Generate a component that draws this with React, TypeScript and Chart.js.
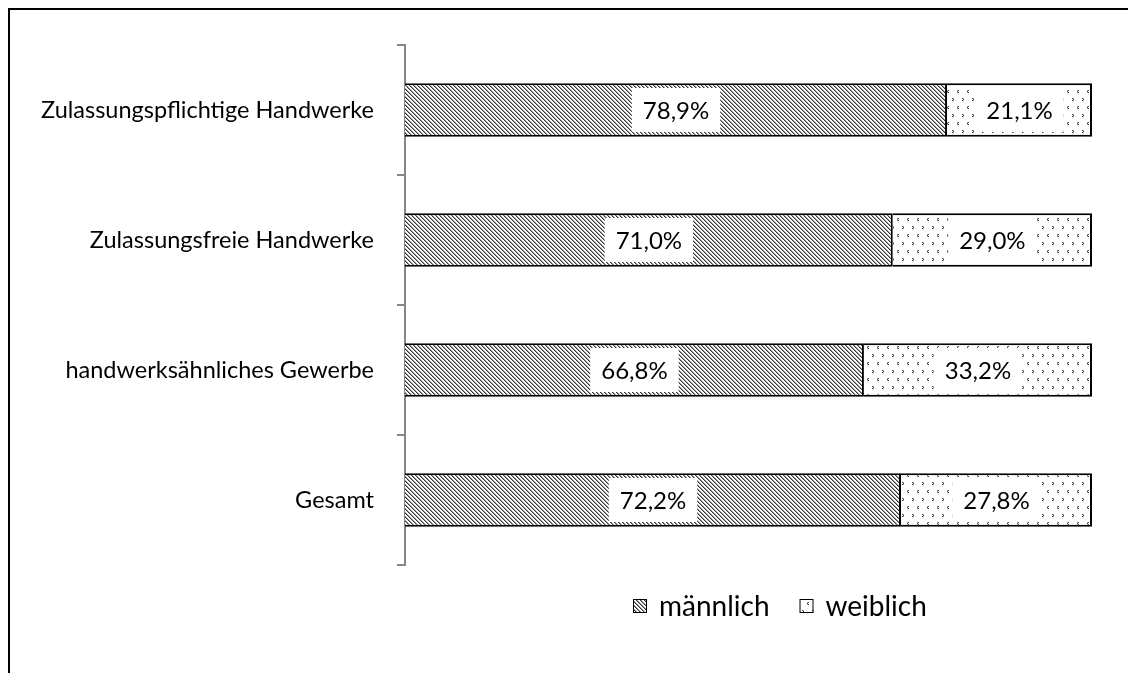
import React, { useEffect, useRef } from 'react';
import { Chart, registerables } from 'chart.js';
Chart.register(...registerables);

const categories = [
  'Zulassungspflichtige Handwerke',
  'Zulassungsfreie Handwerke',
  'handwerksähnliches Gewerbe',
  'Gesamt',
];
const maleValues = [78.9, 71.0, 66.8, 72.2];
const femaleValues = [21.1, 29.0, 33.2, 27.8];
const seriesLabels = ['männlich', 'weiblich'];

const FONT = 'Lato';

function stripePattern(ctx: CanvasRenderingContext2D) {
  const c = document.createElement('canvas');
  c.width = 4;
  c.height = 4;
  const cx = c.getContext('2d')!;
  const img = cx.createImageData(4, 4);
  for (let y = 0; y < 4; y++) {
    for (let x = 0; x < 4; x++) {
      const m = (((x - y) % 4) + 4) % 4;
      const v = m === 0 ? 55 : m === 1 ? 150 : 255;
      const i = (y * 4 + x) * 4;
      img.data[i] = v;
      img.data[i + 1] = v;
      img.data[i + 2] = v;
      img.data[i + 3] = 255;
    }
  }
  cx.putImageData(img, 0, 0);
  return ctx.createPattern(c, 'repeat')!;
}

function dotPattern(ctx: CanvasRenderingContext2D) {
  const c = document.createElement('canvas');
  c.width = 10;
  c.height = 16;
  const cx = c.getContext('2d')!;
  cx.fillStyle = '#fff';
  cx.fillRect(0, 0, 10, 16);
  const dark = '#444';
  const mid = '#a0a0a0';
  // ">" mark
  cx.fillStyle = dark;
  cx.fillRect(2, 2, 1, 1);
  cx.fillRect(3, 3, 1, 1);
  cx.fillRect(2, 4, 1, 1);
  cx.fillStyle = mid;
  cx.fillRect(3, 2, 1, 1);
  cx.fillRect(3, 4, 1, 1);
  // "<" mark
  cx.fillStyle = dark;
  cx.fillRect(8, 10, 1, 1);
  cx.fillRect(7, 11, 1, 1);
  cx.fillRect(8, 12, 1, 1);
  cx.fillStyle = mid;
  cx.fillRect(7, 10, 1, 1);
  cx.fillRect(7, 12, 1, 1);
  return ctx.createPattern(c, 'repeat')!;
}

const fmt = (v: number) => v.toFixed(1).replace('.', ',') + '%';

const decorPlugin = {
  id: 'decor',
  afterDatasetsDraw(chart: any) {
    const ctx: CanvasRenderingContext2D = chart.ctx;
    ctx.save();
    ctx.font = `24px ${FONT}`;
    ctx.textAlign = 'center';
    ctx.textBaseline = 'middle';
    chart.data.datasets.forEach((ds: any, di: number) => {
      const meta = chart.getDatasetMeta(di);
      meta.data.forEach((el: any, i: number) => {
        const { x, base, y } = el.getProps(['x', 'base', 'y'], true);
        const cx = (x + base) / 2;
        const text = fmt(ds.data[i]);
        const w = ctx.measureText(text).width + 22;
        const h = 44;
        ctx.fillStyle = '#fff';
        ctx.fillRect(cx - w / 2, y - h / 2, w, h);
        ctx.fillStyle = '#000';
        ctx.fillText(text, cx, y + 1);
      });
    });
    ctx.restore();
  },
  afterDraw(chart: any) {
    const ctx: CanvasRenderingContext2D = chart.ctx;
    ctx.save();
    // frame
    ctx.strokeStyle = '#000';
    ctx.lineWidth = 2;
    ctx.beginPath();
    ctx.moveTo(9, chart.height);
    ctx.lineTo(9, 9);
    ctx.lineTo(chart.width, 9);
    ctx.stroke();
    // legend
    ctx.font = `28px ${FONT}`;
    ctx.textBaseline = 'middle';
    ctx.textAlign = 'left';
    const box = 14;
    const gap = 12;
    const spacing = 30;
    const items = chart.data.datasets.map((ds: any) => ({
      label: ds.label,
      fill: ds.backgroundColor,
      w: box + gap + ctx.measureText(ds.label).width,
    }));
    const total = items.reduce((s: number, it: any) => s + it.w, 0) + spacing * (items.length - 1);
    let lx = Math.round(780 - total / 2);
    const ly = 606;
    items.forEach((it: any) => {
      ctx.fillStyle = it.fill;
      ctx.fillRect(lx, ly - box / 2, box, box);
      ctx.strokeStyle = '#000';
      ctx.lineWidth = 1;
      ctx.strokeRect(lx + 0.5, ly - box / 2 + 0.5, box - 1, box - 1);
      ctx.fillStyle = '#000';
      ctx.fillText(it.label, lx + box + gap, ly + 1);
      lx += it.w + spacing;
    });
    ctx.restore();
  },
};

export default function App() {
  const ref = useRef<HTMLCanvasElement>(null);
  useEffect(() => {
    document.body.style.margin = '0';
    const canvas = ref.current!;
    const ctx = canvas.getContext('2d')!;
    const chart = new Chart(ctx, {
      type: 'bar',
      data: {
        labels: categories,
        datasets: [
          {
            label: seriesLabels[0],
            data: maleValues,
            backgroundColor: stripePattern(ctx) as any,
            borderColor: '#000',
            borderWidth: { top: 2, bottom: 2, right: 2, left: 0 },
            borderSkipped: false,
          },
          {
            label: seriesLabels[1],
            data: femaleValues,
            backgroundColor: dotPattern(ctx) as any,
            borderColor: '#000',
            borderWidth: { top: 2, bottom: 2, right: 2, left: 0 },
            borderSkipped: false,
          },
        ],
      },
      options: {
        indexAxis: 'y',
        responsive: false,
        animation: false,
        devicePixelRatio: 1,
        datasets: { bar: { barPercentage: 0.41, categoryPercentage: 1 } },
        layout: { padding: { left: 0, right: 36, top: 45, bottom: 108 } },
        plugins: { legend: { display: false }, tooltip: { enabled: false } },
        scales: {
          x: { stacked: true, min: 0, max: 100, display: false },
          y: {
            stacked: true,
            border: { display: true, color: '#868686', width: 2 },
            grid: {
              offset: true,
              drawOnChartArea: false,
              drawTicks: true,
              tickLength: 8,
              color: '#868686',
              lineWidth: 2,
            },
            ticks: { color: '#000', font: { family: FONT, size: 23.5 }, padding: 23 },
            afterFit: (scale: any) => {
              scale.width = 405;
            },
          },
        },
      },
      plugins: [decorPlugin],
    } as any);
    return () => chart.destroy();
  }, []);
  return <canvas ref={ref} width={1128} height={673} style={{ display: 'block', width: 1128, height: 673 }} />;
}
